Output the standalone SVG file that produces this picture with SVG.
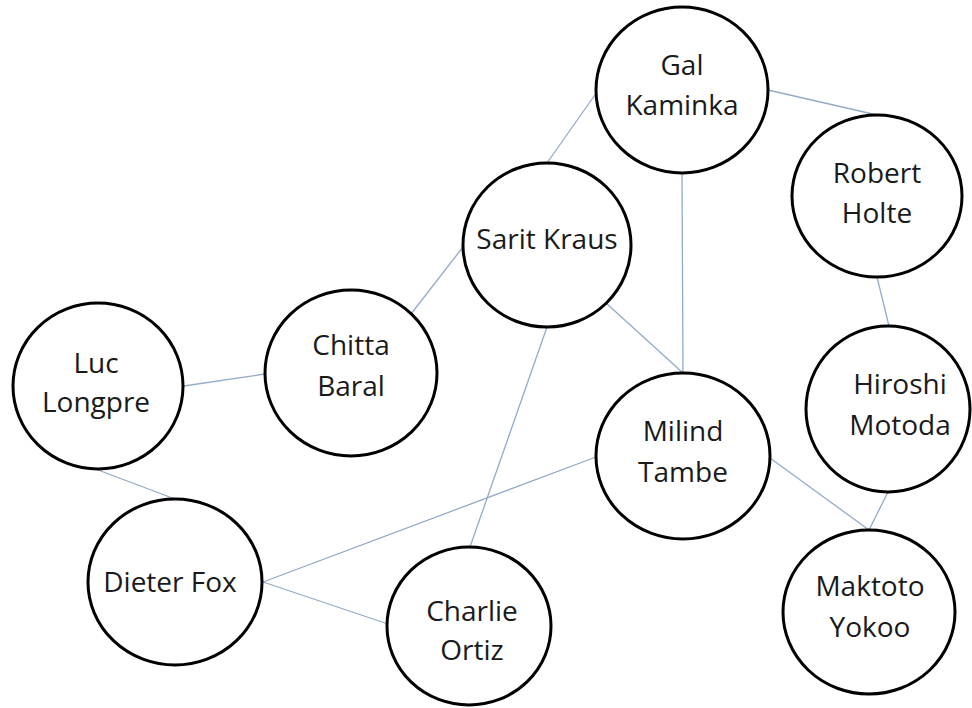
<svg xmlns="http://www.w3.org/2000/svg" width="972" height="708" viewBox="0 0 972 708">
<style>
  .n ellipse { fill: #fff; stroke: #000; stroke-width: 3; }
  .n text { font-family: "Open Sans", "Liberation Sans", sans-serif; font-size: 28px; fill: #1a1a1a; text-anchor: middle; }
  #edges line { stroke: #93abc9; stroke-width: 1.3; }
</style>
<rect width="972" height="708" fill="#fff"/>
<g id="edges">
  <line x1="768" y1="90" x2="877" y2="115"/>
  <line x1="547" y1="163" x2="597" y2="92"/>
  <line x1="682" y1="173" x2="683" y2="373"/>
  <line x1="463" y1="247" x2="411" y2="314"/>
  <line x1="606" y1="303" x2="683" y2="373"/>
  <line x1="547" y1="327" x2="470" y2="547"/>
  <line x1="184" y1="386" x2="265" y2="374"/>
  <line x1="98" y1="470" x2="175" y2="499"/>
  <line x1="263" y1="582" x2="596" y2="457"/>
  <line x1="263" y1="582" x2="388" y2="624"/>
  <line x1="770" y1="458" x2="869" y2="530"/>
  <line x1="888" y1="492" x2="869" y2="530"/>
  <line x1="877" y1="277" x2="889" y2="326"/>
</g>
<g id="gal" class="n">
  <ellipse cx="682" cy="90" rx="86" ry="83"/>
  <text x="682" y="75">Gal</text>
  <text x="682" y="115">Kaminka</text>
</g>
<g id="robert" class="n">
  <ellipse cx="877" cy="196" rx="85" ry="81"/>
  <text x="877" y="183">Robert</text>
  <text x="877" y="223">Holte</text>
</g>
<g id="sarit" class="n">
  <ellipse cx="547" cy="245" rx="84" ry="82"/>
  <text x="547" y="249">Sarit Kraus</text>
</g>
<g id="chitta" class="n">
  <ellipse cx="351" cy="373" rx="86" ry="83"/>
  <text x="351" y="355">Chitta</text>
  <text x="351" y="396">Baral</text>
</g>
<g id="luc" class="n">
  <ellipse cx="98" cy="386" rx="85" ry="83"/>
  <text x="96" y="373">Luc</text>
  <text x="96" y="412">Longpre</text>
</g>
<g id="milind" class="n">
  <ellipse cx="683" cy="456" rx="87" ry="83"/>
  <text x="683" y="441">Milind</text>
  <text x="683" y="482">Tambe</text>
</g>
<g id="hiroshi" class="n">
  <ellipse cx="888" cy="409" rx="82" ry="83"/>
  <text x="900" y="394">Hiroshi</text>
  <text x="900" y="435">Motoda</text>
</g>
<g id="dieter" class="n">
  <ellipse cx="175" cy="582" rx="87" ry="83"/>
  <text x="170" y="592">Dieter Fox</text>
</g>
<g id="charlie" class="n">
  <ellipse cx="469" cy="626" rx="82" ry="79"/>
  <text x="472" y="621">Charlie</text>
  <text x="472" y="660">Ortiz</text>
</g>
<g id="maktoto" class="n">
  <ellipse cx="869" cy="612" rx="86" ry="82"/>
  <text x="870" y="596">Maktoto</text>
  <text x="870" y="637">Yokoo</text>
</g>
</svg>
